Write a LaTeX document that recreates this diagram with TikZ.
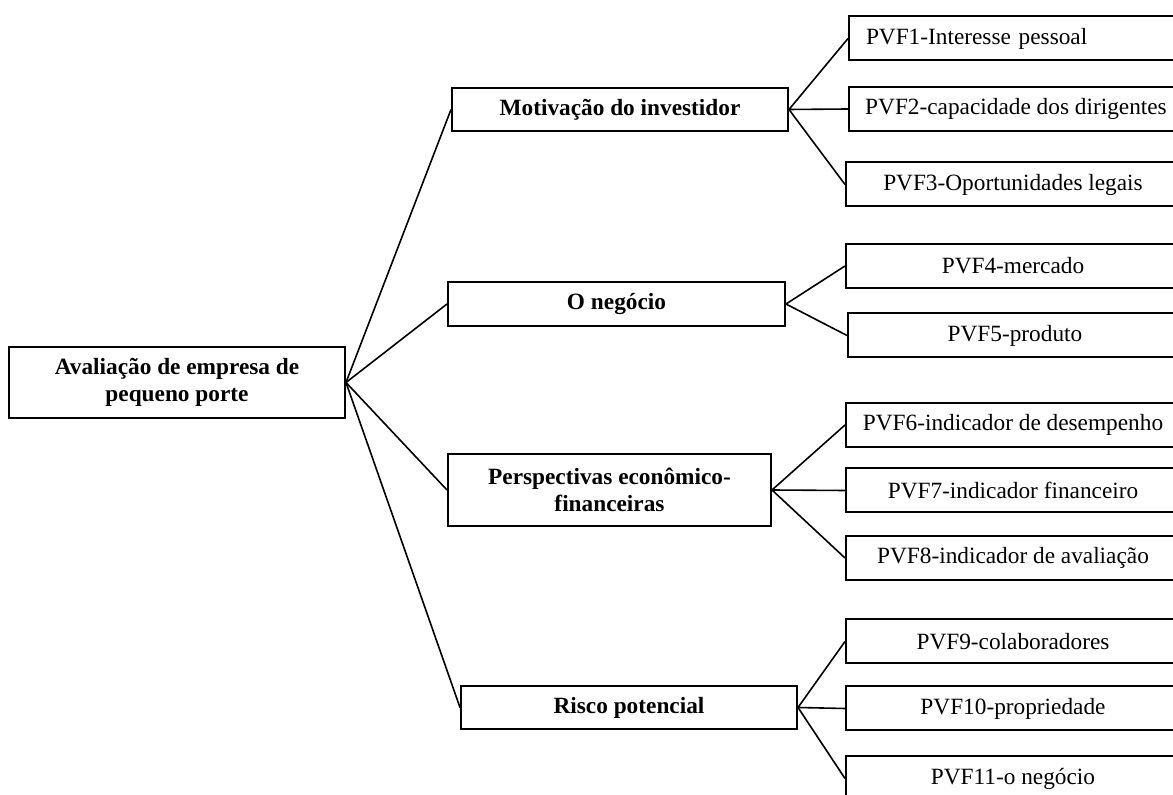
\documentclass[tikz,border=0pt]{standalone}
\usepackage{fontspec}
\setmainfont{Liberation Serif}
\usepackage{tikz}

\tikzset{
  caixa/.style={draw, line width=1pt, align=center, inner sep=0pt,
    font=\fontsize{11.65}{13.5}\selectfont\bfseries},
  folha/.style={draw, line width=1pt, anchor=west, minimum width=167pt,
    minimum height=22pt, inner sep=0pt, font=\fontsize{11.65}{13.5}\selectfont},
  ramo/.style={line width=0.8pt}
}

\begin{document}
\begin{tikzpicture}[x=0.5pt, y=-0.5pt]
      \useasboundingbox (0,0) rectangle (1173,795);
      \clip (0,0) rectangle (1173,795);

      % CAIXA RAIZ
      \node[caixa, minimum width=168pt, minimum height=35.5pt] (raiz) at (177,382.5)
        {Avalia\c{c}\~ao de empresa de\\pequeno porte};

      % CAIXAS DO MEIO
      \node[caixa, minimum width=168pt, minimum height=21.5pt] (mot) at (620,109.5)
        {Motiva\c{c}\~ao do investidor};
      \node[caixa, minimum width=168.5pt, minimum height=22pt] (neg) at (616.5,304)
        {O neg\'ocio};
      \node[caixa, minimum width=161.5pt, minimum height=36pt] (per) at (609.5,490)
        {Perspectivas econ\^omico-\\financeiras};
      \node[caixa, minimum width=168pt, minimum height=21.5pt] (ris) at (629,707.5)
        {Risco potencial};

      % FOLHAS
      \node[folha, text width=150pt, align=left] (f1) at (848,38.5) {PVF1-Interesse pessoal};
      \node[folha] (f2) at (848,109) {PVF2-capacidade dos dirigentes};
      \node[folha] (f3) at (845,184.5) {PVF3-Oportunidades legais};
      \node[folha] (f4) at (845,266) {PVF4-mercado};
      \node[folha] (f5) at (847,335.5) {PVF5-produto};
      \node[folha] (f6) at (845,425) {PVF6-indicador de desempenho};
      \node[folha] (f7) at (845,490.5) {PVF7-indicador financeiro};
      \node[folha] (f8) at (845,558) {PVF8-indicador de avalia\c{c}\~ao};
      \node[folha] (f9) at (845,641.5) {PVF9-colaboradores};
      \node[folha] (f10) at (845,708.5) {PVF10-propriedade};
      \node[folha] (f11) at (845,778.5) {PVF11-o neg\'ocio};

      % RAMOS DA RAIZ
      \draw[ramo] (raiz.east) -- (mot.west);
      \draw[ramo] (raiz.east) -- (neg.west);
      \draw[ramo] (raiz.east) -- (per.west);
      \draw[ramo] (raiz.east) -- (ris.west);

      % RAMOS DAS FOLHAS
      \draw[ramo] (f1.west) -- (mot.east) -- (f2.west);
      \draw[ramo] (mot.east) -- (f3.west);
      \draw[ramo] (f4.west) -- (neg.east) -- (f5.west);
      \draw[ramo] (f6.west) -- (per.east) -- (f7.west);
      \draw[ramo] (per.east) -- (f8.west);
      \draw[ramo] (f9.west) -- (ris.east) -- (f10.west);
      \draw[ramo] (ris.east) -- (f11.west);
\end{tikzpicture}
\end{document}
